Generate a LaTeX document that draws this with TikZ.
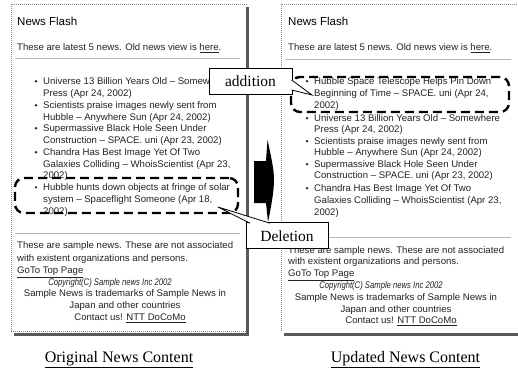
\documentclass[tikz,border=0pt]{standalone}
\usepackage{fontspec}
\setmainfont{Liberation Serif}
\newfontfamily\sansf{Liberation Sans}
\usepackage{graphicx}
\definecolor{shadowc}{HTML}{5A5A5A}
\definecolor{dotc}{HTML}{8A8A8A}
\definecolor{hrc}{HTML}{B4B4B4}
\definecolor{txtc}{HTML}{222222}
\begin{document}
\begin{tikzpicture}[x=1pt,y=-1pt,
  ln/.style={anchor=base west, inner sep=0, text=txtc, font=\sansf\fontsize{9.6}{11.5}\selectfont},
  lnc/.style={ln, anchor=base},
  ttl/.style={anchor=base west, inner sep=0, font=\sansf\fontsize{11.5}{13}\selectfont},
  captext/.style={anchor=base, inner sep=0, font=\fontsize{16}{18}\selectfont},
  dotline/.style={dotc, line width=0.7, dash pattern=on 0.8 off 1.2},
  shadowline/.style={shadowc, line width=3},
  hrline/.style={hrc, line width=0.9},
  dbox/.style={draw, line width=2.4, dash pattern=on 9 off 5, rounded corners=9, inner sep=0},
  callbox/.style={draw, fill=white, line width=0.8, inner sep=0, font=\fontsize{15.5}{17}\selectfont},
  bul/.style={circle, fill=txtc, inner sep=0, minimum size=2.6}
]
\useasboundingbox (0,0) rectangle (518,369);

% ---------- left panel frame ----------
\draw[dotline] (11,331) -- (11,4) -- (247,4);
\draw[dotline] (11,331) -- (246,331);
\draw[shadowline] (247.5,7) -- (247.5,334) -- (14,334);

% ---------- right panel frame ----------
\draw[dotline] (281,331) -- (281,4) -- (518,4);
\draw[shadowline] (284,334) -- (518,334);

% ---------- left panel text ----------
\node[ttl] (lt) at (17,26) {News Flash};
\node[ln] (lh) at (17,50.5) {These are latest 5 news. Old news view is \underline{here}.};
\draw[hrline] (15,58) -- (240,58);

\node[bul] (lb1) at (36,81.2) {};
\node[ln] (l1a) at (43,84.5) {Universe 13 Billion Years Old – Somewhere};
\node[ln] (l1b) at (43,96) {Press (Apr 24, 2002)};
\node[bul] (lb2) at (36,105.2) {};
\node[ln] (l2a) at (43,108.5) {Scientists praise images newly sent from};
\node[ln] (l2b) at (43,120) {Hubble – Anywhere Sun (Apr 24, 2002)};
\node[bul] (lb3) at (36,128.2) {};
\node[ln] (l3a) at (43,131.5) {Supermassive Black Hole Seen Under};
\node[ln] (l3b) at (43,143) {Construction – SPACE. uni (Apr 23, 2002)};
\node[bul] (lb4) at (36,152.2) {};
\node[ln] (l4a) at (43,155.5) {Chandra Has Best Image Yet Of Two};
\node[ln] (l4b) at (43,167) {Galaxies Colliding – WhoisScientist (Apr 23,};
\node[ln] (l4c) at (43,178) {2002)};
\node[bul] (lb5) at (36,187.4) {};
\node[ln] (l5a) at (43,190.7) {Hubble hunts down objects at fringe of solar};
\node[ln] (l5b) at (43,202.5) {system – Spaceflight Someone (Apr 18,};
\node[ln] (l5c) at (43,214) {2002)};

\draw[hrline] (15,233) -- (240,233);
\node[ln] (lf1) at (17,248.5) {These are sample news. These are not associated};
\node[ln] (lf2) at (17,261) {with existent organizations and persons.};
\node[ln] (lf3) at (17,273.5) {\underline{GoTo Top Page}};
\node[lnc] (lf4) at (110,285.5) {\scalebox{0.8}[1]{\itshape Copyright(C) Sample news Inc 2002}};
\node[lnc] (lf5) at (125,296.5) {Sample News is trademarks of Sample News in};
\node[lnc] (lf6) at (125,308.5) {Japan and other countries};
\node[lnc] (lf7) at (130,320.5) {Contact us! \underline{NTT DoCoMo}};

% ---------- right panel text ----------
\node[ttl] (rt) at (288,26) {News Flash};
\node[ln] (rh) at (288,50.5) {These are latest 5 news. Old news view is \underline{here}.};
\draw[hrline] (286,59) -- (511,59);

\node[bul] (rb1) at (307,81.2) {};
\node[ln] (r1a) at (314,84.5) {Hubble Space Telescope Helps Pin Down};
\node[ln] (r1b) at (314,96.5) {Beginning of Time – SPACE. uni (Apr 24,};
\node[ln] (r1c) at (314,108.5) {2002)};
\node[bul] (rb2) at (307,118.2) {};
\node[ln] (r2a) at (314,121.5) {Universe 13 Billion Years Old – Somewhere};
\node[ln] (r2b) at (314,132.5) {Press (Apr 24, 2002)};
\node[bul] (rb3) at (307,141.2) {};
\node[ln] (r3a) at (314,144.5) {Scientists praise images newly sent from};
\node[ln] (r3b) at (314,155.5) {Hubble – Anywhere Sun (Apr 24, 2002)};
\node[bul] (rb4) at (307,164.2) {};
\node[ln] (r4a) at (314,167.5) {Supermassive Black Hole Seen Under};
\node[ln] (r4b) at (314,178.5) {Construction – SPACE. uni (Apr 23, 2002)};
\node[bul] (rb5) at (307,188.2) {};
\node[ln] (r5a) at (314,191.5) {Chandra Has Best Image Yet Of Two};
\node[ln] (r5b) at (314,203.5) {Galaxies Colliding – WhoisScientist (Apr 23,};
\node[ln] (r5c) at (314,215.5) {2002)};

\draw[hrline] (286,237) -- (511,237);
\node[ln] (rf1) at (288,253.5) {These are sample news. These are not associated};
\node[ln] (rf2) at (288,264.5) {with existent organizations and persons.};
\node[ln] (rf3) at (288,276.5) {\underline{GoTo Top Page}};
\node[lnc] (rf4) at (381,288.5) {\scalebox{0.8}[1]{\itshape Copyright(C) Sample news Inc 2002}};
\node[lnc] (rf5) at (396,300.5) {Sample News is trademarks of Sample News in};
\node[lnc] (rf6) at (396,312.5) {Japan and other countries};
\node[lnc] (rf7) at (401,323.5) {Contact us! \underline{NTT DoCoMo}};

% ---------- dashed highlight boxes ----------
\node[dbox, minimum width=223, minimum height=35] (delbox) at (126.5,195.5) {};
\node[dbox, minimum width=218, minimum height=35] (addbox) at (400,94.5) {};

% ---------- central block arrow ----------
\fill (254,161) -- (266,161) -- (267.5,140)
  .. controls (271.5,158) and (274,170) .. (274,180)
  .. controls (274,192) and (270.5,210) .. (268,222)
  -- (266,203) -- (254,203) -- cycle;

% ---------- captions ----------
\node[captext] (capl) at (119,362) {\underline{Original News Content}};
\node[captext] (capr) at (405.5,362) {\underline{Updated News Content}};

% ---------- callouts ----------
\node[callbox, minimum width=83, minimum height=26] (add) at (250.5,81) {addition};
\coordinate (addtip) at (312,95);
\coordinate (adda) at (291.6,80);
\coordinate (addb) at (291.6,90);
\fill[white] (adda) -- (addtip) -- (addb) -- cycle;
\draw[line width=0.8] (adda) -- (addtip) -- (addb);

\node[callbox, minimum width=82, minimum height=26] (del) at (287,235.8) {Deletion};
\coordinate (deltip) at (218,207);
\coordinate (dela) at (250,223.2);
\coordinate (delb) at (270,223.2);
\fill[white] (dela) -- (deltip) -- (delb) -- cycle;
\draw[line width=0.8] (dela) -- (deltip) -- (delb);
\end{tikzpicture}
\end{document}
